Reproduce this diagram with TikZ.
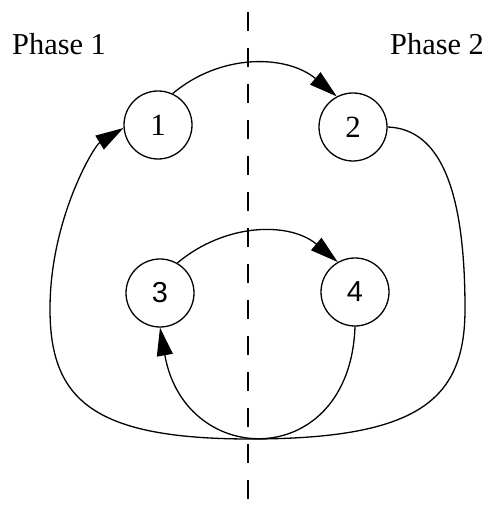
\documentclass[tikz,border=0pt]{standalone}
\usepackage{fontspec}
\setmainfont{Liberation Serif}
\setsansfont{Liberation Sans}
\usetikzlibrary{arrows.meta,positioning}

\begin{document}
\begin{tikzpicture}[
    x=1bp, y=1bp,
    state/.style={circle, draw, line width=1.3bp, minimum size=68bp, inner sep=0pt, font=\fontsize{31}{31}\selectfont},
    statesf/.style={state, font=\sffamily\fontsize{29}{29}\selectfont},
    phase/.style={anchor=base west, inner sep=0pt, font=\fontsize{30.5}{30.5}\selectfont},
    arrow/.style={-{Triangle[length=28bp, width=16bp]}, line width=1.3bp},
    divider/.style={line width=1.8bp, dash pattern=on 19bp off 17bp}
]
    \useasboundingbox (0,0) rectangle (495,509);

    % phase boundary
    \coordinate (top) at (248,497);
    \coordinate (bottom) at (248,0);
    \draw[divider] (top) -- (bottom);

    \node[phase] (ph1) at (12,454) {Phase 1};
    \node[phase] (ph2) at (390,454) {Phase 2};

    \node[state] (s1) at (158,384) {1};
    \node[state] (s2) at (353,382) {2};
    \node[statesf] (s3) at (160,216) {3};
    \node[statesf] (s4) at (355,217) {4};

    \draw[arrow] (s1.65) to[out=40, in=140] (s2.118);
    \draw[arrow] (s3.60) to[out=40, in=140] (s4.120);
    \draw[arrow] (s4.south) to[out=-92, in=-80, looseness=1.9] (s3.south);

    % outer loop back from 2 to 1
    \draw[arrow] (s2.east) .. controls (440,380) and (465,320) .. (465,200)
        .. controls (465,110) and (420,70) .. (250,70)
        .. controls (92,70) and (50,110) .. (50,200)
        .. controls (50,290) and (94,363) .. (s1.185);
\end{tikzpicture}
\end{document}
